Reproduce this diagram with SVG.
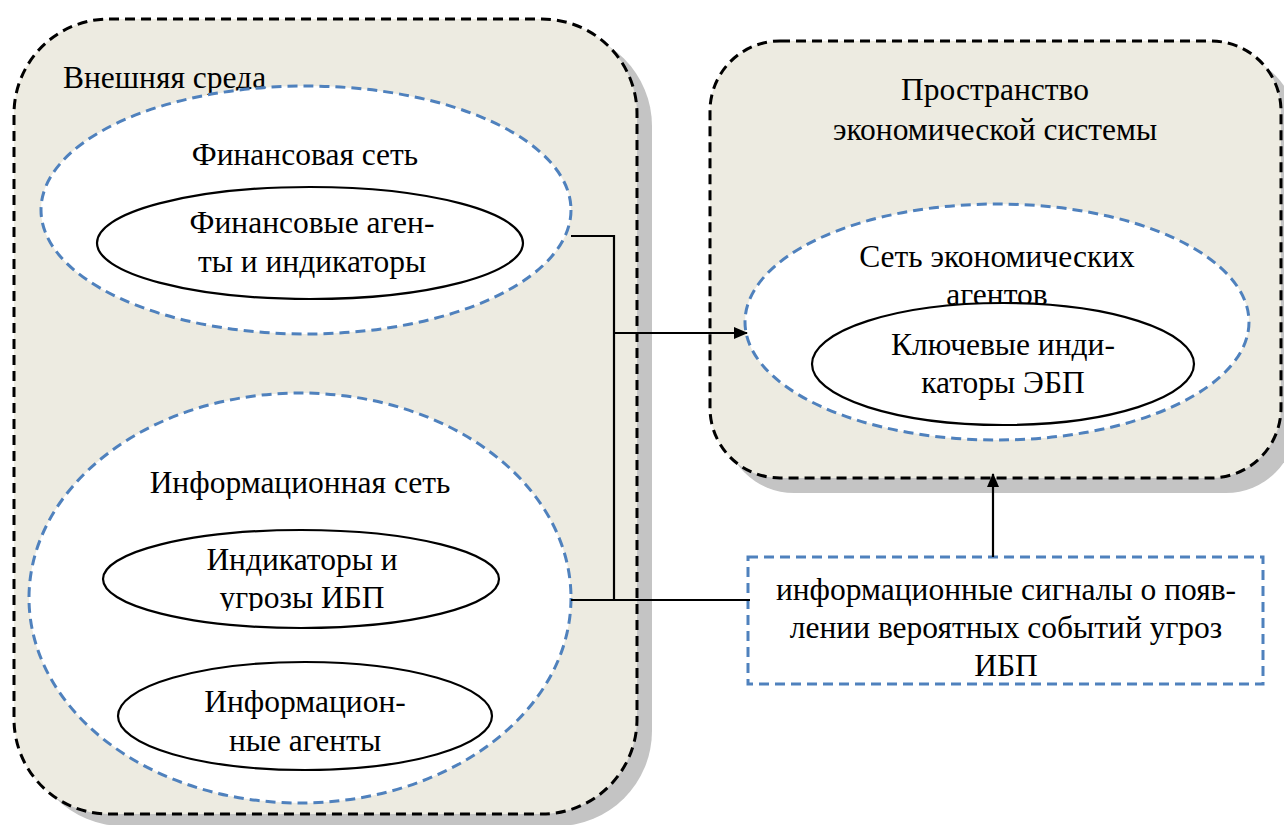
<svg xmlns="http://www.w3.org/2000/svg" width="1284" height="825" viewBox="0 0 1284 825">
<defs>
<style>
.shadow{fill:#c4c4c4}
.cont{fill:#edebe1;stroke:#000;stroke-width:3;stroke-dasharray:10,6}
.net{fill:#fff;stroke:#4f81bd;stroke-width:3;stroke-dasharray:10,6}
.ag{fill:#fff;stroke:#000;stroke-width:2.2}
.box{fill:#fff;stroke:#4f81bd;stroke-width:3;stroke-dasharray:10,6}
text{font-family:"Liberation Serif","Times New Roman",serif;font-size:31.5px;fill:#000}
.c{text-anchor:middle}
.ln{fill:none;stroke:#000;stroke-width:2.2}
</style>
<marker id="ah" markerWidth="14" markerHeight="12" refX="13" refY="6" orient="auto" markerUnits="userSpaceOnUse">
<path d="M0,0 L14,6 L0,12 Z" fill="#000"/>
</marker>
<clipPath id="cl1"><rect x="100" y="520" width="400" height="91"/></clipPath>
<clipPath id="cl2"><rect x="110" y="655" width="390" height="96"/></clipPath>
</defs>

<g id="external">
<rect class="shadow" x="28" y="31" width="624" height="795" rx="95"/>
<rect class="cont" x="14" y="19" width="623" height="795" rx="95"/>
<text x="63" y="88">Внешняя среда</text>
</g>

<g id="economic-space">
<rect class="shadow" x="724" y="55" width="572" height="438" rx="70"/>
<rect class="cont" x="710" y="41" width="571" height="437" rx="70"/>
<text class="c" x="995" y="100">Пространство</text>
<text class="c" x="995" y="140">экономической системы</text>
</g>

<g id="financial-net">
<ellipse class="net" cx="306" cy="210" rx="265" ry="124"/>
<text class="c" x="305" y="165">Финансовая сеть</text>
</g>

<g id="financial-agents">
<ellipse class="ag" cx="310" cy="243" rx="213" ry="56"/>
<text class="c" x="312" y="233">Финансовые аген-</text>
<text class="c" x="312" y="272">ты и индикаторы</text>
</g>

<g id="info-net">
<ellipse class="net" cx="300" cy="598" rx="271" ry="205"/>
<text class="c" x="300" y="493">Информационная сеть</text>
</g>

<g id="info-indicators">
<ellipse class="ag" cx="301" cy="579" rx="198" ry="49"/>
<g clip-path="url(#cl1)">
<text class="c" x="302" y="570">Индикаторы и</text>
<text class="c" x="302" y="608">угрозы ИБП</text>
</g>
</g>

<g id="info-agents">
<ellipse class="ag" cx="305" cy="716" rx="187" ry="54"/>
<g clip-path="url(#cl2)">
<text class="c" x="305" y="712">Информацион-</text>
<text class="c" x="305" y="751">ные агенты</text>
</g>
</g>

<g id="economic-net">
<ellipse class="net" cx="997" cy="322" rx="252" ry="118"/>
<text class="c" x="997" y="267">Сеть экономических</text>
<text class="c" x="997" y="305">агентов</text>
</g>

<g id="key-indicators">
<ellipse class="ag" cx="1003" cy="364" rx="191" ry="61"/>
<text class="c" x="1003" y="355">Ключевые инди-</text>
<text class="c" x="1003" y="393">каторы ЭБП</text>
</g>

<g id="signals">
<rect class="box" x="748" y="557" width="515" height="127"/>
<text class="c" x="1006" y="600">информационные сигналы о появ-</text>
<text class="c" x="1006" y="638">лении вероятных событий угроз</text>
<text class="c" x="1006" y="676">ИБП</text>
</g>

<g id="connectors">
<polyline class="ln" points="571,236 614,236 614,600"/>
<line class="ln" x1="614" y1="333" x2="747" y2="333" marker-end="url(#ah)"/>
<line class="ln" x1="571" y1="600" x2="750" y2="600"/>
<line class="ln" x1="993" y1="557" x2="993" y2="474" marker-end="url(#ah)"/>
</g>
</svg>
